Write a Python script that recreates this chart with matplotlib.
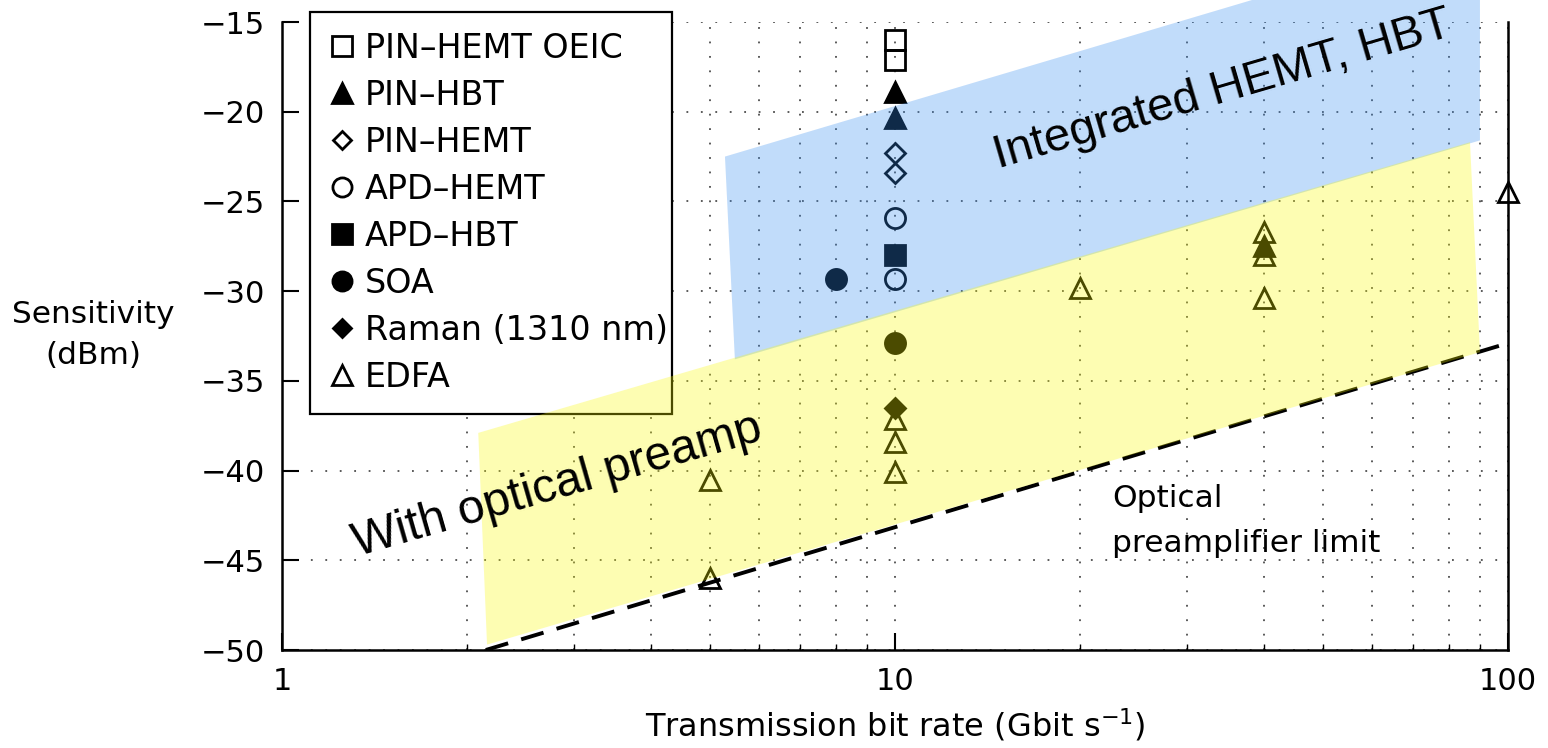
import numpy as np
import matplotlib.pyplot as plt
from matplotlib.patches import Polygon
from matplotlib.ticker import FixedLocator, NullFormatter

plt.rcParams['font.family'] = ['DejaVu Sans']

# receiver sensitivity data (bit rate in Gbit/s, sensitivity in dBm)
rate_oeic = [10, 10]
sens_oeic = [-16.0, -17.1]
rate_pin_hbt = [10, 10, 40]
sens_pin_hbt = [-18.9, -20.35, -27.5]
rate_pin_hemt = [10, 10]
sens_pin_hemt = [-22.3, -23.4]
rate_apd_hemt = [10, 10]
sens_apd_hemt = [-25.9, -29.3]
rate_apd_hbt = [10]
sens_apd_hbt = [-28.0]
rate_soa = [8, 10]
sens_soa = [-29.3, -32.9]
rate_raman = [10]
sens_raman = [-36.5]
rate_edfa = [10, 10, 10, 5, 5, 20, 40, 40, 40, 100]
sens_edfa = [-37.1, -38.4, -40.1, -40.5, -46.0, -29.8, -26.7, -28.0, -30.4, -24.5]

# optical preamplifier limit
limit_rate = [2.15, 100]
limit_sens = [-50.0, -32.9]

# shaded regions
band_integrated_rate = [5.28, 5.48, 90.0, 90.0]
band_integrated_sens = [-22.5, -33.8, -21.6, -10.0]
band_preamp_rate = [2.09, 2.16, 90.0, 86.7]
band_preamp_sens = [-37.9, -49.7, -33.4, -21.7]

y_ticks = [-15, -20, -25, -30, -35, -40, -45, -50]
x_ticks = [1, 10, 100]
x_ticklabels = ['1', '10', '100']

fig = plt.figure(figsize=(15.48, 7.48), dpi=100)
ax = fig.add_axes([282 / 1548, 98 / 748, 1226 / 1548, 628 / 748])

ax.set_xscale('log')
ax.set_xlim(1, 100)
ax.set_ylim(-50, -15)

ms = 14.5
ew = 2.0
ax.plot(rate_oeic, sens_oeic, 's', ms=ms, mfc='none', mec='black', mew=ew, label='PIN–HEMT OEIC')
ax.plot(rate_pin_hbt, sens_pin_hbt, '^', ms=ms, mfc='black', mec='black', mew=ew, label='PIN–HBT')
ax.plot(rate_pin_hemt, sens_pin_hemt, 'D', ms=ms * 0.7, mfc='none', mec='black', mew=ew, label='PIN–HEMT')
ax.plot(rate_apd_hemt, sens_apd_hemt, 'o', ms=ms, mfc='none', mec='black', mew=ew, label='APD–HEMT')
ax.plot(rate_apd_hbt, sens_apd_hbt, 's', ms=ms, mfc='black', mec='black', mew=ew, label='APD–HBT')
ax.plot(rate_soa, sens_soa, 'o', ms=ms, mfc='black', mec='black', mew=ew, label='SOA')
ax.plot(rate_raman, sens_raman, 'D', ms=ms * 0.7, mfc='black', mec='black', mew=ew, label='Raman (1310 nm)')
ax.plot(rate_edfa, sens_edfa, '^', ms=ms, mfc='none', mec='black', mew=ew, label='EDFA', clip_on=False)

ax.plot(limit_rate, limit_sens, color='black', lw=2.8, ls=(0, (6, 3.5)), zorder=4)
ax.text(22.6, -42.8, 'Optical\npreamplifier limit', fontsize=22.5, ha='left', va='center',
        linespacing=1.7)

# axes frame: left, right and bottom only
ax.spines['top'].set_visible(False)
for side in ['left', 'right', 'bottom']:
    ax.spines[side].set_linewidth(1.8)

ax.set_yticks(y_ticks)
ax.xaxis.set_major_locator(FixedLocator(x_ticks))
ax.set_xticklabels(x_ticklabels)
ax.xaxis.set_minor_formatter(NullFormatter())
ax.tick_params(axis='both', which='major', direction='in', labelsize=22, pad=12,
               length=12, width=1.5)
ax.tick_params(axis='x', which='minor', direction='in', length=4, width=1)
ax.tick_params(axis='y', which='both', right=False)

ax.grid(True, axis='x', which='both', color='0.3', lw=1.3, ls=(0, (1, 7)))
ax.grid(True, axis='y', which='major', color='0.3', lw=1.3, ls=(0, (1, 7)))

ax.set_xlabel('Transmission bit rate (Gbit s$^{-1}$)', fontsize=23, labelpad=8)
fig.text(93 / 1548, 1 - 335 / 748, 'Sensitivity\n(dBm)', fontsize=22.5, ha='center',
         va='center', linespacing=1.55)

fs_leg = 24
leg = ax.legend(loc='upper left', bbox_to_anchor=(310 / 1548, 1 - 414 / 748, 362 / 1548, 402 / 748),
                bbox_transform=fig.transFigure, mode='expand', borderaxespad=0,
                fontsize=fs_leg, frameon=True, fancybox=False, framealpha=1,
                edgecolor='black', handlelength=0.74, handletextpad=0.3,
                borderpad=0.6, labelspacing=0.42, numpoints=1, markerscale=0.95)
leg.get_frame().set_linewidth(1.6)
leg.set_zorder(5)

# translucent shaded regions laid over the marks
ax.add_patch(Polygon(np.column_stack([band_integrated_rate, band_integrated_sens]),
                     closed=True, facecolor=(0.2, 0.55, 0.94), alpha=0.3, lw=0,
                     zorder=6, clip_on=False))
ax.add_patch(Polygon(np.column_stack([band_preamp_rate, band_preamp_sens]),
                     closed=True, facecolor=(0.98, 0.98, 0.0), alpha=0.3, lw=0,
                     zorder=6, clip_on=False))

ax.text(34.7, -19.45, 'Integrated HEMT, HBT', fontsize=34, family='Liberation Sans',
        rotation=16.3, rotation_mode='anchor', ha='center', va='baseline', zorder=7,
        clip_on=False)
ax.text(2.85, -41.53, 'With optical preamp', fontsize=34.5, family='Liberation Sans',
        rotation=16.0, rotation_mode='anchor', ha='center', va='baseline', zorder=7,
        clip_on=False)

fig.savefig('out.png', dpi=100)
